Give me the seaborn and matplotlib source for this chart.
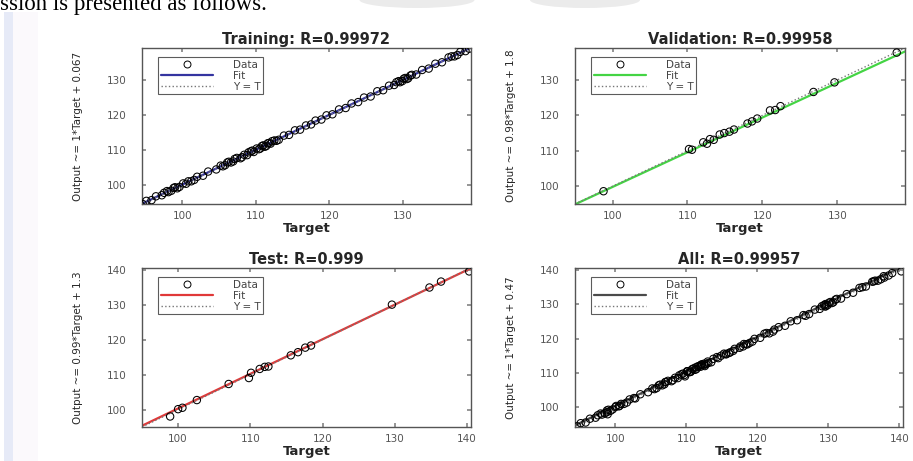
import numpy as np
import pandas as pd
import matplotlib
matplotlib.use('Agg')
import matplotlib.pyplot as plt
from matplotlib.lines import Line2D
from matplotlib.patches import Rectangle, Ellipse
from matplotlib.ticker import MultipleLocator
import seaborn as sns

# Values (targets vs network outputs)
train_target = [94.6, 95.1, 95.8, 96.4, 97.2, 97.9, 98.5, 99.0, 99.6, 100.1,
                100.5, 101.2, 102.0, 102.8, 103.5, 104.6, 105.2, 105.8, 106.3, 106.9,
                107.4, 107.9, 108.4, 108.8, 109.3, 109.7, 110.1, 110.4, 110.8, 111.2,
                111.6, 112.0, 112.5, 113.1, 113.8, 114.5, 115.3, 116.0, 116.8, 117.5,
                118.1, 118.9, 119.6, 120.4, 121.3, 122.2, 123.0, 123.9, 124.7, 125.6,
                126.5, 127.3, 128.1, 128.8, 129.4, 129.9, 130.3, 130.7, 131.2, 131.8,
                132.6, 133.5, 134.4, 135.3, 136.2, 137.0, 137.8, 138.5, 139.0,
                97.5, 98.1, 98.8, 99.3, 100.8, 101.6, 105.5, 106.1, 106.6, 107.1,
                108.1, 109.0, 109.5, 110.6, 111.0, 111.4, 111.8, 112.2, 112.8, 129.1,
                129.6, 130.1, 130.5, 131.0, 136.6, 137.4]
train_output = [94.5, 95.4, 95.6, 96.7, 97.0, 98.2, 98.3, 99.3, 99.4, 100.4,
                100.3, 101.0, 102.3, 102.6, 103.8, 104.4, 105.5, 105.6, 106.6, 106.7,
                107.7, 107.6, 108.6, 108.5, 109.6, 109.4, 110.4, 110.2, 111.1, 110.9,
                111.9, 111.8, 112.7, 112.9, 114.1, 114.3, 115.6, 115.8, 117.0, 117.3,
                118.4, 118.7, 119.9, 120.2, 121.6, 122.0, 123.3, 123.7, 125.0, 125.3,
                126.8, 127.1, 128.4, 128.6, 129.7, 129.7, 130.6, 130.5, 131.5, 131.6,
                132.9, 133.3, 134.7, 135.1, 136.5, 136.8, 138.1, 138.3, 139.0,
                97.7, 97.9, 99.1, 99.0, 101.0, 101.4, 105.3, 106.4, 106.4, 107.4,
                107.9, 109.3, 109.8, 110.4, 111.3, 111.1, 112.0, 112.5, 112.6, 129.4,
                129.4, 130.4, 130.3, 131.3, 136.8, 137.2]

val_target = [98.8, 110.2, 110.6, 112.1, 112.6, 113.0, 113.5, 114.3, 114.9, 115.6,
              116.2, 118.0, 118.6, 119.3, 121.0, 121.7, 122.4, 126.8, 129.6, 137.9]
val_output = [98.6, 110.5, 110.3, 112.4, 112.0, 113.3, 113.1, 114.6, 115.0, 115.4,
              116.0, 117.7, 118.3, 119.1, 121.4, 121.5, 122.6, 126.6, 129.3, 137.7]

test_target = [98.9, 100.0, 100.6, 102.6, 107.0, 109.8, 110.1, 111.3, 112.0, 112.5,
               115.6, 116.6, 117.6, 118.4, 129.6, 134.8, 136.4, 140.3]
test_output = [98.0, 100.1, 100.5, 102.7, 107.3, 109.0, 110.5, 111.6, 112.2, 112.3,
               115.5, 116.4, 117.7, 118.3, 130.0, 134.9, 136.6, 139.5]

titles = ['Training: R=0.99972', 'Validation: R=0.99958', 'Test: R=0.999', 'All: R=0.99957']
ylabels = ['Output ~= 1*Target + 0.067', 'Output ~= 0.98*Target + 1.8',
           'Output ~= 0.99*Target + 1.3', 'Output ~= 1*Target + 0.47']
slopes = [1.0, 0.98, 0.99, 1.0]
intercepts = [0.067, 1.8, 1.3, 0.47]

all_target = train_target + val_target + test_target
all_output = train_output + val_output + test_output
sets = [(train_target, train_output), (val_target, val_output),
        (test_target, test_output), (all_target, all_output)]

fit_colors = ['#3434a0', '#44d444', '#e03838', '#4a4a4a']
limits = [(94.5, 139.2), (95.0, 139.0), (95.0, 140.5), (94.3, 140.5)]
positions = [[0.1555, 0.5575, 0.360, 0.3384], [0.6298, 0.5575, 0.3614, 0.3384],
             [0.1555, 0.0738, 0.360, 0.345], [0.6298, 0.0738, 0.359, 0.345]]

sns.set_theme(style='white')
plt.rcParams['font.family'] = ['DejaVu Sans']

fig = plt.figure(figsize=(9.13, 4.61), dpi=100)
fig.patch.set_facecolor('white')

# page bits around the figure (text line above, margin bar on the left)
fig.text(0.0, 1 - 10 / 461, 'ssion is presented as follows.', ha='left', va='baseline',
         fontsize=16.5, family=['Liberation Serif', 'DejaVu Serif'], color='black')
fig.patches.append(Rectangle((4 / 913, 0), 9 / 913, 1 - 12 / 461, transform=fig.transFigure,
                             facecolor='#e6eaf7', edgecolor='none'))
fig.patches.append(Rectangle((13 / 913, 0), 25 / 913, 1 - 12 / 461, transform=fig.transFigure,
                             facecolor='#fbf9fc', edgecolor='none'))
for cx, w in [(417, 115), (585, 110)]:
    fig.patches.append(Ellipse((cx / 913, 1.0), w / 913, 16 / 461, transform=fig.transFigure,
                               facecolor='#ebebeb', edgecolor='none'))

for i in range(4):
    ax = fig.add_axes(positions[i])
    t, y = sets[i]
    lo, hi = limits[i]
    m, b = slopes[i], intercepts[i]
    df = pd.DataFrame({'Target': t, 'Output': y})

    sns.lineplot(x=[lo, hi], y=[m * lo + b, m * hi + b], ax=ax, color=fit_colors[i], lw=1.6,
                 legend=False)
    sns.lineplot(x=[lo, hi], y=[lo, hi], ax=ax, color='#777777', lw=1, linestyle=':',
                 legend=False)
    sns.scatterplot(data=df, x='Target', y='Output', ax=ax, marker='o', s=28,
                    facecolor='none', edgecolor='black', linewidth=0.75, zorder=3)

    ax.set_xlim(lo, hi)
    ax.set_ylim(lo, hi)
    ax.xaxis.set_major_locator(MultipleLocator(10))
    ax.yaxis.set_major_locator(MultipleLocator(10))
    ax.tick_params(direction='in', length=3, top=True, right=True, bottom=True, left=True,
                   labelsize=7.5, labelcolor='#555555', color='#888888')
    ax.tick_params(axis='x', pad=5)
    ax.tick_params(axis='y', pad=11)
    for s in ax.spines.values():
        s.set_color('#555555')
        s.set_linewidth(1.0)

    ax.set_title(titles[i], fontweight='bold', fontsize=10.5, pad=3)
    ax.set_xlabel('Target', fontweight='bold', fontsize=9.5, labelpad=1)
    ax.set_ylabel(ylabels[i], fontsize=7.5)
    ax.yaxis.set_label_coords(-0.18, 0.5)

    handles = [Line2D([], [], marker='o', ls='none', mfc='none', mec='black', ms=5, mew=0.7),
               Line2D([], [], color=fit_colors[i], lw=1.6),
               Line2D([], [], color='#777777', lw=1, ls=':')]
    leg = ax.legend(handles, ['Data', 'Fit', 'Y = T'], loc='upper left',
                    bbox_to_anchor=(0.049, 0.942), borderaxespad=0, fontsize=7.5,
                    handlelength=5.0, handletextpad=1.9, labelspacing=0.1, borderpad=0.25,
                    frameon=True, fancybox=False, edgecolor='#333333')
    leg.get_frame().set_linewidth(0.8)
    for txt in leg.get_texts():
        txt.set_color('#444444')

fig.savefig('out.png', dpi=100)
